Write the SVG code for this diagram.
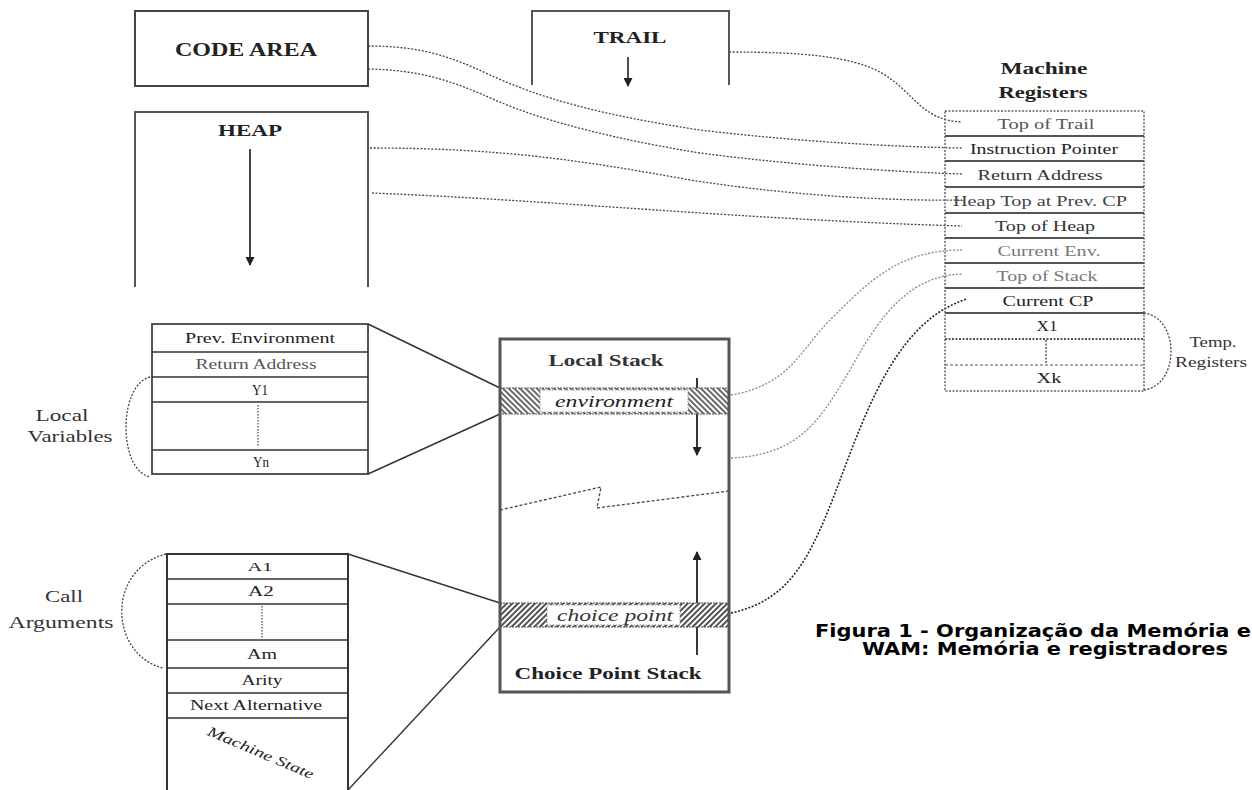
<svg xmlns="http://www.w3.org/2000/svg" width="1252" height="790" viewBox="0 0 1252 790">
<defs>
<style>
.t{font-family:"Liberation Serif","Times New Roman",serif;fill:#222;text-anchor:middle}
.b{font-weight:bold}
.it{font-style:italic}
.box{fill:#fff;stroke:#444;stroke-width:2}
.ln{stroke:#555;stroke-width:2;fill:none}
.row{stroke:#555;stroke-width:2.2;fill:none}
.thin{stroke:#333;stroke-width:1.4;fill:none}
.dot{fill:none;stroke:#444;stroke-width:1.3;stroke-dasharray:2 1.6}
.dotg{fill:none;stroke:#888;stroke-width:1.3;stroke-dasharray:2 1.6}
.dotd{fill:none;stroke:#222;stroke-width:1.6;stroke-dasharray:2 1.6}
.cap{font-family:"DejaVu Sans",Verdana,sans-serif;font-weight:bold;fill:#000}
</style>
<marker id="ah" viewBox="0 0 10 10" refX="9" refY="5" markerUnits="userSpaceOnUse" markerWidth="12" markerHeight="9" orient="auto">
<path d="M0,0 L10,5 L0,10 z" fill="#222"/>
</marker>
<pattern id="hatchA" patternUnits="userSpaceOnUse" width="4" height="4" patternTransform="rotate(-45)">
<rect width="4" height="4" fill="#fff"/><line x1="1" y1="0" x2="1" y2="4" stroke="#444" stroke-width="1.6"/>
</pattern>
<pattern id="hatchB" patternUnits="userSpaceOnUse" width="4" height="4" patternTransform="rotate(45)">
<rect width="4" height="4" fill="#fff"/><line x1="1" y1="0" x2="1" y2="4" stroke="#333" stroke-width="1.7"/>
</pattern>
</defs>
<rect width="1252" height="790" fill="#fff"/>

<g id="connectors">
<path class="dot" d="M368,46 C420,46 450,56 490,75 C540,98 600,115 700,130 C800,142 900,147 962,148"/>
<path class="dot" d="M368,69 C420,70 450,80 495,100 C545,122 620,140 700,153 C800,166 900,172 962,174"/>
<path class="dot" d="M729,52 C800,52 850,56 880,72 C915,92 920,120 962,122"/>
<path class="dot" d="M370,148 C500,148 580,160 690,180 C800,197 900,201 962,200"/>
<path class="dot" d="M372,193 C550,200 750,220 962,226"/>
<path class="dotg" d="M731,395 C790,385 800,350 830,320 C870,280 900,250 962,250"/>
<path class="dotg" d="M731,458 C800,455 820,420 850,370 C880,315 910,275 963,274"/>
<path class="dotd" d="M731,613 C790,600 810,560 840,480 C870,400 900,320 967,299"/>
<path class="thin" d="M368,324 L500,388"/>
<path class="thin" d="M368,474 L500,414"/>
<path class="thin" d="M348,554 L500,603"/>
<path class="thin" d="M348,790 L500,627"/>
<path class="dot" d="M150,377 C118,385 118,470 150,477"/>
<path class="dot" d="M166,554 C105,570 110,655 163,668"/>
<path class="dot" d="M1144,313 C1180,318 1180,385 1144,390"/>
</g>

<g id="code-area">
<rect class="box" x="135" y="11" width="233" height="75"/>
<text class="t b" x="246" y="56" font-size="19" textLength="142" lengthAdjust="spacingAndGlyphs">CODE AREA</text>
</g>

<g id="trail">
<path class="ln" d="M532,85 L532,11 L729,11 L729,85"/>
<text class="t b" x="630" y="43" font-size="17" textLength="73" lengthAdjust="spacingAndGlyphs">TRAIL</text>
<line x1="628" y1="57" x2="628" y2="86" stroke="#222" stroke-width="1.6" marker-end="url(#ah)"/>
</g>

<g id="heap">
<path class="ln" d="M135,287 L135,112 L368,112 L368,287"/>
<text class="t b" x="250" y="136" font-size="17" textLength="64" lengthAdjust="spacingAndGlyphs">HEAP</text>
<line x1="250" y1="149" x2="250" y2="265" stroke="#333" stroke-width="1.8" marker-end="url(#ah)"/>
</g>

<g id="machine-registers">
<text class="t b" x="1044" y="74" font-size="16" textLength="87" lengthAdjust="spacingAndGlyphs">Machine</text>
<text class="t b" x="1043" y="98" font-size="16" textLength="89" lengthAdjust="spacingAndGlyphs">Registers</text>
<rect x="945" y="111" width="199" height="280" fill="none" stroke="#666" stroke-width="1.5" stroke-dasharray="2 1.5"/>
<path class="row" d="M945,136 H1144 M945,161 H1144 M945,187 H1144 M945,213 H1144 M945,238 H1144 M945,263 H1144 M945,288 H1144 M945,313 H1144"/>
<line x1="945" y1="339" x2="1144" y2="339" stroke="#555" stroke-width="2" stroke-dasharray="2 1.5"/>
<line x1="945" y1="365" x2="1144" y2="365" stroke="#555" stroke-width="1.2" stroke-dasharray="3 2"/>
<line x1="1046" y1="340" x2="1046" y2="364" stroke="#555" stroke-width="1.5" stroke-dasharray="2 1.5"/>
<text class="t" x="1046" y="129" font-size="15" style="fill:#555" textLength="97" lengthAdjust="spacingAndGlyphs">Top of Trail</text>
<text class="t" x="1044" y="154" font-size="15" textLength="148" lengthAdjust="spacingAndGlyphs">Instruction Pointer</text>
<text class="t" x="1040" y="180" font-size="15" style="fill:#333" textLength="125" lengthAdjust="spacingAndGlyphs">Return Address</text>
<text class="t" x="1040" y="206" font-size="15" style="fill:#444" textLength="174" lengthAdjust="spacingAndGlyphs">Heap Top at Prev. CP</text>
<text class="t" x="1045" y="231" font-size="15" style="fill:#333" textLength="100" lengthAdjust="spacingAndGlyphs">Top of Heap</text>
<text class="t" x="1049" y="256" font-size="15" style="fill:#777" textLength="103" lengthAdjust="spacingAndGlyphs">Current Env.</text>
<text class="t" x="1047" y="281" font-size="15" style="fill:#777" textLength="101" lengthAdjust="spacingAndGlyphs">Top of Stack</text>
<text class="t" x="1048" y="306" font-size="15" textLength="91" lengthAdjust="spacingAndGlyphs">Current CP</text>
<text class="t" x="1047" y="331" font-size="15" textLength="21" lengthAdjust="spacingAndGlyphs">X1</text>
<text class="t" x="1049" y="383" font-size="15" textLength="25" lengthAdjust="spacingAndGlyphs">Xk</text>
<text class="t" x="1213" y="347" font-size="14" style="fill:#333" textLength="47" lengthAdjust="spacingAndGlyphs">Temp.</text>
<text class="t" x="1211" y="367" font-size="14" style="fill:#333" textLength="72" lengthAdjust="spacingAndGlyphs">Registers</text>
</g>

<g id="environment-frame">
<rect x="152" y="324" width="216" height="150" fill="none" stroke="#444" stroke-width="1.8"/>
<path class="thin" d="M152,352 H368 M152,377 H368 M152,402 H368 M152,450 H368"/>
<line x1="258" y1="405" x2="258" y2="447" stroke="#555" stroke-width="1.3" stroke-dasharray="1.5 1.5"/>
<text class="t" x="260" y="343" font-size="15" textLength="150" lengthAdjust="spacingAndGlyphs">Prev. Environment</text>
<text class="t" x="256" y="369" font-size="14" style="fill:#555" textLength="121" lengthAdjust="spacingAndGlyphs">Return Address</text>
<text class="t" x="260" y="395" font-size="15" textLength="16" lengthAdjust="spacingAndGlyphs">Y1</text>
<text class="t" x="261" y="467" font-size="15" textLength="16" lengthAdjust="spacingAndGlyphs">Yn</text>
<text class="t" x="62" y="421" font-size="16" style="fill:#333" textLength="53" lengthAdjust="spacingAndGlyphs">Local</text>
<text class="t" x="70" y="442" font-size="16" style="fill:#333" textLength="85" lengthAdjust="spacingAndGlyphs">Variables</text>
</g>

<g id="stack">
<line x1="697" y1="378" x2="697" y2="455" stroke="#222" stroke-width="1.8" marker-end="url(#ah)"/>
<line x1="697" y1="655" x2="697" y2="552" stroke="#222" stroke-width="1.8" marker-end="url(#ah)"/>
<rect x="500" y="388" width="229" height="26" fill="url(#hatchA)" stroke="#555" stroke-width="1.2" stroke-dasharray="2 1"/>
<rect x="540" y="390" width="148" height="22" fill="#fff" stroke="#888" stroke-width="1" stroke-dasharray="1.5 1.5"/>
<text class="t it" x="614" y="407" font-size="16" textLength="118" lengthAdjust="spacingAndGlyphs">environment</text>
<rect x="500" y="603" width="229" height="24" fill="url(#hatchB)" stroke="#444" stroke-width="1.2" stroke-dasharray="2 1"/>
<rect x="547" y="605" width="133" height="20" fill="#fff" stroke="#888" stroke-width="1" stroke-dasharray="1.5 1.5"/>
<text class="t it" x="615" y="621" font-size="16" style="fill:#333" textLength="116" lengthAdjust="spacingAndGlyphs">choice point</text>
<path d="M500,510 L601,487 L597,508 L729,491" fill="none" stroke="#444" stroke-width="1.3" stroke-dasharray="3 2"/>
<rect x="500" y="339" width="229" height="353" fill="none" stroke="#555" stroke-width="3"/>
<text class="t b" x="606" y="366" font-size="17" style="fill:#333" textLength="115" lengthAdjust="spacingAndGlyphs">Local Stack</text>
<text class="t b" x="608" y="679" font-size="17" textLength="187" lengthAdjust="spacingAndGlyphs">Choice Point Stack</text>
</g>

<g id="choice-point-frame">
<path d="M167,790 L167,554 L348,554 L348,790" fill="none" stroke="#333" stroke-width="2"/>
<path class="thin" d="M167,579 H348 M167,604 H348 M167,640 H348 M167,668 H348 M167,693 H348 M167,718 H348"/>
<line x1="262" y1="606" x2="262" y2="638" stroke="#555" stroke-width="1.3" stroke-dasharray="1.5 1.5"/>
<text class="t" x="260" y="571" font-size="13" textLength="25" lengthAdjust="spacingAndGlyphs">A1</text>
<text class="t" x="261" y="596" font-size="14" textLength="26" lengthAdjust="spacingAndGlyphs">A2</text>
<text class="t" x="262" y="659" font-size="15" textLength="30" lengthAdjust="spacingAndGlyphs">Am</text>
<text class="t" x="262" y="685" font-size="14" textLength="41" lengthAdjust="spacingAndGlyphs">Arity</text>
<text class="t" x="256" y="710" font-size="14" textLength="132" lengthAdjust="spacingAndGlyphs">Next Alternative</text>
<text class="t it" transform="translate(259,757) rotate(23)" font-size="14" textLength="114" lengthAdjust="spacingAndGlyphs">Machine State</text>
<text class="t" x="64" y="602" font-size="16" style="fill:#333" textLength="38" lengthAdjust="spacingAndGlyphs">Call</text>
<text class="t" x="61" y="628" font-size="16" style="fill:#333" textLength="105" lengthAdjust="spacingAndGlyphs">Arguments</text>
</g>

<g id="caption">
<text class="cap" x="815" y="637" font-size="17" textLength="436" lengthAdjust="spacingAndGlyphs">Figura 1 - Organização da Memória e</text>
<text class="cap" x="862" y="655" font-size="17" textLength="366" lengthAdjust="spacingAndGlyphs">WAM: Memória e registradores</text>
</g>
</svg>
